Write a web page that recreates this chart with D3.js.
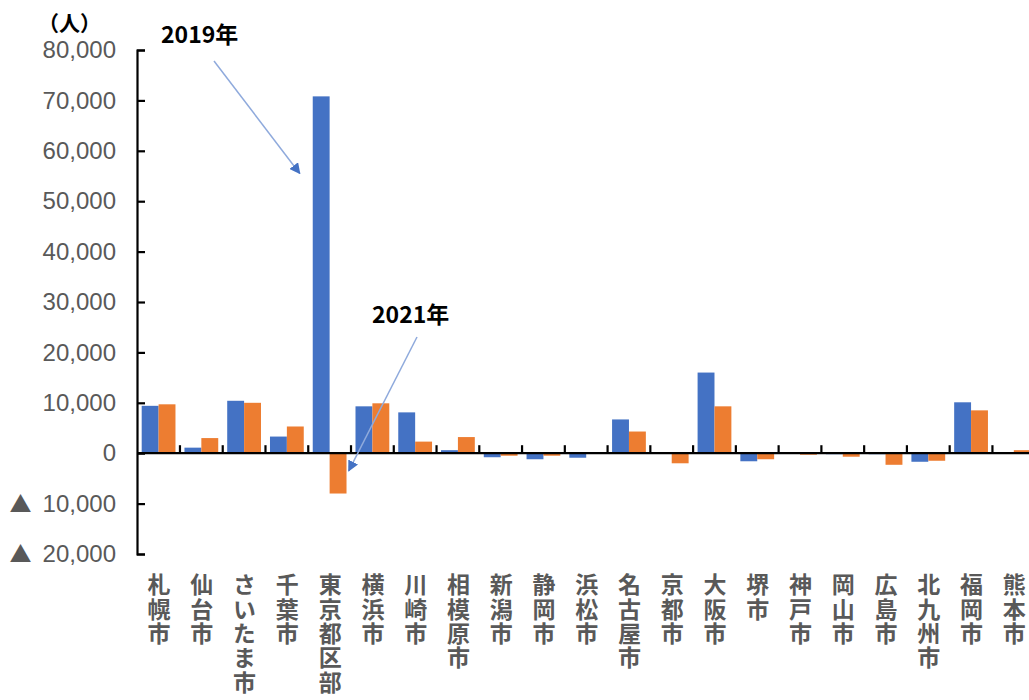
<!DOCTYPE html>
<html>
<head>
<meta charset="utf-8">
<script src="https://cdn.jsdelivr.net/npm/d3@7"></script>
<style>
  html, body { margin: 0; padding: 0; background: #fff; overflow: hidden; }
  svg { display: block; }
</style>
</head>
<body>
<svg id="chart" width="1029" height="700"></svg>
<script>
// 政令指定都市ごとの人口の社会増減（2019年・2021年）
const cities = ["札幌市", "仙台市", "さいたま市", "千葉市", "東京都区部", "横浜市", "川崎市",
  "相模原市", "新潟市", "静岡市", "浜松市", "名古屋市", "京都市", "大阪市", "堺市", "神戸市",
  "岡山市", "広島市", "北九州市", "福岡市", "熊本市"];
const years = ["2019年", "2021年"];
const values2019 = [9400, 1100, 10400, 3300, 70800, 9300, 8100, 600, -800, -1200, -900,
  6700, 0, 16000, -1600, -100, -200, -200, -1700, 10100, 100];
const values2021 = [9700, 3000, 10000, 5300, -8000, 9900, 2300, 3200, -500, -500, -100,
  4300, -2000, 9300, -1200, -300, -700, -2300, -1500, 8500, 600];
const yTicks = [80000, 70000, 60000, 50000, 40000, 30000, 20000, 10000, 0, -10000, -20000];
const unitLabel = "（人）";

const colors = { "2019年": "#4472C4", "2021年": "#ED7D31" };

const svg = d3.select("#chart");

const y = d3.scaleLinear().domain([-20000, 80000]).range([554, 50]);
const x = d3.scaleBand().domain(cities).range([137.2, 1035.2])
  .paddingInner(0.21).paddingOuter(0.105);
const xSub = d3.scaleBand().domain(years).range([0, x.bandwidth()]);

const series = years.map((yr, i) => ({ year: yr, values: i === 0 ? values2019 : values2021 }));

// bars
const groups = svg.append("g").selectAll("g")
  .data(series).join("g")
  .attr("fill", d => colors[d.year]);

groups.selectAll("rect")
  .data(d => d.values.map((v, i) => ({ year: d.year, city: cities[i], v })))
  .join("rect")
  .attr("x", d => x(d.city) + xSub(d.year))
  .attr("width", xSub.bandwidth())
  .attr("y", d => y(Math.max(0, d.v)))
  .attr("height", d => Math.abs(y(d.v) - y(0)));

// y axis (negative values are written with a leading ▲)
const fmt = d3.format(",");
const yAxis = d3.axisRight(y).tickValues(yTicks).tickSize(8).tickFormat("");
const gy = svg.append("g").attr("transform", "translate(137,0)").call(yAxis);
gy.select(".domain").attr("stroke", "#000").attr("stroke-width", 2.2);
gy.selectAll(".tick line").attr("stroke", "#000").attr("stroke-width", 2.2);
const tickText = gy.selectAll(".tick text")
  .attr("x", -21)
  .attr("text-anchor", "end")
  .attr("fill", "#595959")
  .style("font-family", "'Liberation Sans', Arial, sans-serif")
  .style("font-size", "24px");
tickText.filter(d => d < 0).append("tspan")
  .style("font-family", "'Noto Sans CJK JP', sans-serif")
  .style("font-size", "22px")
  .text("▲\u2002");
tickText.append("tspan").text(d => fmt(Math.abs(d)));

// zero line with category separators
const step = x.step();
const start = x.range()[0];
const zeroY = y(0);
svg.append("line")
  .attr("x1", 137).attr("x2", 1029)
  .attr("y1", zeroY).attr("y2", zeroY)
  .attr("stroke", "#000").attr("stroke-width", 2.2);
svg.append("g").selectAll("line")
  .data(d3.range(1, cities.length + 1))
  .join("line")
  .attr("x1", k => start + k * step).attr("x2", k => start + k * step)
  .attr("y1", zeroY).attr("y2", zeroY - 8)
  .attr("stroke", "#000").attr("stroke-width", 2.2);

// vertical category labels
svg.append("g").selectAll("text")
  .data(cities).join("text")
  .attr("x", d => x(d) + x.bandwidth() / 2 + 0.5)
  .attr("y", 573)
  .attr("fill", "#595959")
  .style("font-family", "'Noto Sans CJK JP', sans-serif")
  .style("font-size", "23px")
  .style("font-weight", "bold")
  .style("writing-mode", "vertical-rl")
  .style("text-orientation", "upright")
  .style("letter-spacing", "1.4px")
  .text(d => d);

// unit label
svg.append("text")
  .attr("x", 38).attr("y", 31)
  .style("font-family", "'Noto Sans CJK JP', sans-serif")
  .style("font-size", "21px")
  .style("font-weight", "bold")
  .attr("fill", "#000")
  .text(unitLabel);

// call-out arrows
svg.append("defs").append("marker")
  .attr("id", "head")
  .attr("viewBox", "0 0 10 10")
  .attr("refX", 9).attr("refY", 5)
  .attr("markerWidth", 11).attr("markerHeight", 11)
  .attr("markerUnits", "userSpaceOnUse")
  .attr("orient", "auto")
  .append("path").attr("d", "M0,0 L10,5 L0,10 Z").attr("fill", "#4472C4");

const callouts = [
  { text: "2019年", tx: 161, ty: 43, city: "東京都区部", from: [214, 61], toVal: 55500, dx: -13 },
  { text: "2021年", tx: 372, ty: 323, city: "東京都区部", from: [417, 337], toVal: -3500, dx: 36 }
];
callouts.forEach(c => {
  svg.append("line")
    .attr("x1", c.from[0]).attr("y1", c.from[1])
    .attr("x2", x(c.city) + c.dx)
    .attr("y2", y(c.toVal))
    .attr("stroke", "#8FAADC").attr("stroke-width", 1.5)
    .attr("marker-end", "url(#head)");
  svg.append("text")
    .attr("x", c.tx).attr("y", c.ty)
    .style("font-family", "'Noto Sans CJK JP', sans-serif")
    .style("font-size", "23px")
    .style("font-weight", "bold")
    .attr("fill", "#000")
    .text(c.text);
});
</script>
</body>
</html>
